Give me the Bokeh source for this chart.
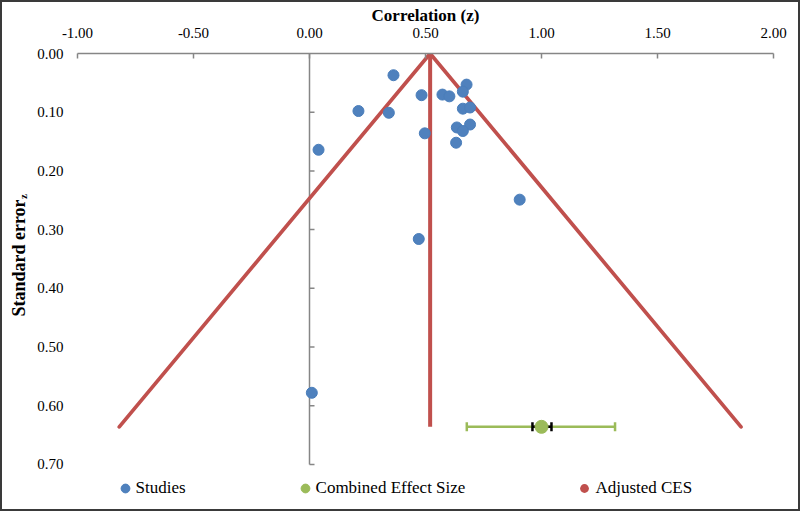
from bokeh.plotting import figure
from bokeh.models import (Range1d, FixedTicker, NumeralTickFormatter, Legend,
                          LegendItem, ColumnDataSource, Whisker, TeeHead, LinearAxis)
from bokeh.embed import file_html
from bokeh.resources import INLINE

# ---- data -------------------------------------------------------------
x_ticks = [-1.0, -0.5, 0.0, 0.5, 1.0, 1.5, 2.0]
y_ticks = [0.0, 0.1, 0.2, 0.3, 0.4, 0.5, 0.6, 0.7]

study_z = [0.362, 0.483, 0.573, 0.603, 0.677, 0.661, 0.342, 0.661, 0.692, 0.635,
           0.692, 0.661, 0.497, 0.632, 0.211, 0.039, 0.906, 0.471, 0.010]
study_se = [0.037, 0.071, 0.070, 0.073, 0.053, 0.065, 0.101, 0.094, 0.092, 0.126,
            0.121, 0.132, 0.136, 0.152, 0.098, 0.164, 0.249, 0.316, 0.578]

ces_z = [1.00]
ces_se = [0.636]
ces_ci_low = [0.678]
ces_ci_high = [1.317]
ces_se_low = [0.961]
ces_se_high = [1.043]

adj_z = [0.52]
adj_apex_se = [0.0]
funnel_x = [-0.82, 0.52, 1.86]
funnel_se = [0.636, 0.0, 0.636]
adj_line_x = [0.52, 0.52]
adj_line_se = [0.0, 0.636]

# ---- style ------------------------------------------------------------
BLUE = "#4F81BD"
GREEN = "#9BBB59"
RED = "#C0504D"
GRAY = "#868686"
FONT = "Liberation Serif"
NBSP = "\u00a0"

# frame reaches down to the legend row; the value axis itself stops at 0.70
p = figure(width=800, height=511,
           x_range=Range1d(-1, 2), y_range=Range1d(0.7734, 0),
           x_axis_location="above", y_axis_location="left",
           output_backend="svg", toolbar_location=None,
           min_border_left=75, min_border_right=29,
           min_border_top=51, min_border_bottom=6)
p.styles = {"border": "2px solid #3a3a3a"}
p.xgrid.visible = False
p.ygrid.visible = False
p.outline_line_color = None
p.background_fill_color = "white"
p.border_fill_color = "white"

xa = p.xaxis[0]
xa.ticker = FixedTicker(ticks=x_ticks)
xa.formatter = NumeralTickFormatter(format="0.00")
xa.axis_label = "Correlation (z)"
xa.axis_label_text_font = FONT
xa.axis_label_text_font_style = "bold"
xa.axis_label_text_font_size = "17px"
xa.axis_label_text_color = "black"
xa.axis_label_standoff = 0
xa.major_label_text_font = FONT
xa.major_label_text_font_size = "15px"
xa.major_label_text_color = "black"
xa.major_label_standoff = 16
xa.major_tick_in = 5
xa.major_tick_out = 0
xa.major_tick_line_color = GRAY
xa.major_tick_line_width = 1.5
xa.minor_tick_line_color = None
xa.axis_line_color = GRAY
xa.axis_line_width = 1.5

# inner left axis: tick labels, and the subscript z of the title as its label
ya = p.yaxis[0]
ya.ticker = FixedTicker(ticks=y_ticks)
ya.formatter = NumeralTickFormatter(format="0.00")
ya.axis_label = NBSP * 61 + "z"
ya.axis_label_text_font = FONT
ya.axis_label_text_font_style = "bold"
ya.axis_label_text_font_size = "11px"
ya.axis_label_text_color = "black"
ya.axis_label_standoff = 5
ya.major_label_text_font = FONT
ya.major_label_text_font_size = "15px"
ya.major_label_text_color = "black"
ya.major_label_standoff = 14
ya.major_tick_in = 0
ya.major_tick_out = 0
ya.major_tick_line_color = None
ya.minor_tick_line_color = None
ya.axis_line_color = None

# outer left axis: carries only the title "Standard error"
t_axis = LinearAxis(ticker=FixedTicker(ticks=y_ticks), axis_line_color=None,
                    major_tick_line_color=None, minor_tick_line_color=None,
                    major_tick_in=0, major_tick_out=0, major_label_standoff=0,
                    major_label_overrides={t: "" for t in y_ticks},
                    axis_label=NBSP * 10 + "Standard error", axis_label_text_font=FONT,
                    axis_label_text_font_style="bold", axis_label_text_font_size="18px",
                    axis_label_text_color="black", axis_label_standoff=-14)
p.add_layout(t_axis, "left")

# vertical axis line at z = 0 with its tick marks
p.segment(x0=[0], y0=[y_ticks[0]], x1=[0], y1=[y_ticks[-1]],
          line_color=GRAY, line_width=1.5)
p.ray(x=[0] * (len(y_ticks) - 1), y=y_ticks[1:], length=5, length_units="screen",
      angle=0, line_color=GRAY, line_width=1.5)

# adjusted CES funnel
p.line(funnel_x, funnel_se, line_color=RED, line_width=3.7,
       line_join="round", line_cap="round")
p.line(adj_line_x, adj_line_se, line_color=RED, line_width=4, line_cap="butt")
r_adj = p.scatter(adj_z, adj_apex_se, size=0, fill_color=RED, line_color=RED, line_width=0)

# studies
r_studies = p.scatter(study_z, study_se, size=11, fill_color=BLUE, line_color="#4A7EBB")

# combined effect size with its intervals
src_ci = ColumnDataSource(dict(base=ces_se, lower=ces_ci_low, upper=ces_ci_high))
w1 = Whisker(base="base", lower="lower", upper="upper", dimension="width", source=src_ci,
             line_color=GREEN, line_width=2.5,
             upper_head=TeeHead(size=9, line_color=GREEN, line_width=2.5),
             lower_head=TeeHead(size=9, line_color=GREEN, line_width=2.5),
             level="underlay")
p.add_layout(w1)
src_se = ColumnDataSource(dict(base=ces_se, lower=ces_se_low, upper=ces_se_high))
w2 = Whisker(base="base", lower="lower", upper="upper", dimension="width", source=src_se,
             line_color="black", line_width=2.5,
             upper_head=TeeHead(size=9, line_color="black", line_width=2.5),
             lower_head=TeeHead(size=9, line_color="black", line_width=2.5),
             level="underlay")
p.add_layout(w2)
r_ces = p.scatter(ces_z, ces_se, size=13, fill_color=GREEN, line_color=GREEN)

legend = Legend(items=[LegendItem(label="Studies", renderers=[r_studies]),
                       LegendItem(label="Combined Effect Size", renderers=[r_ces]),
                       LegendItem(label="Adjusted CES", renderers=[r_adj])],
                orientation="horizontal", location=(36.5, 8),
                glyph_width=22, glyph_height=22, label_standoff=-2, spacing=108,
                padding=0, margin=0, border_line_color=None,
                background_fill_alpha=0,
                label_text_font=FONT, label_text_font_size="17px",
                label_text_color="black")
p.add_layout(legend)

open("out.html", "w").write(file_html(p, INLINE))
